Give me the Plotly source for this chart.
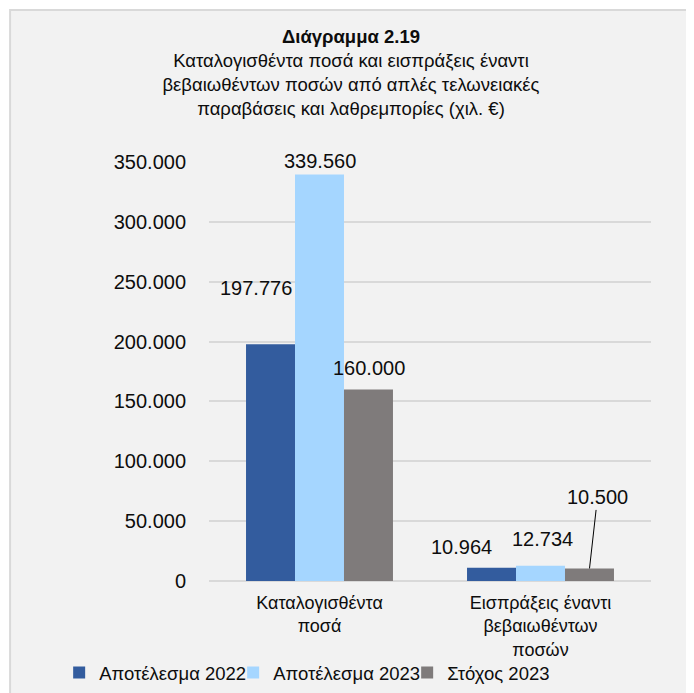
import plotly.graph_objects as go

# data
categories = ["Καταλογισθέντα<br>ποσά", "Εισπράξεις έναντι<br>βεβαιωθέντων<br>ποσών"]
series_names = ["Αποτέλεσμα 2022", "Αποτέλεσμα 2023", "Στόχος 2023"]
res_2022 = [197776, 10964]
res_2023 = [339560, 12734]
target_2023 = [160000, 10500]
label_text = [["197.776", "10.964"], ["339.560", "12.734"], ["160.000", "10.500"]]

colors = ["#335C9E", "#A5D6FF", "#7F7B7B"]
font_family = "Liberation Sans, Arial, sans-serif"
txt_color = "#0d0d0d"

fig = go.Figure()
for name, vals, c in zip(series_names, [res_2022, res_2023, target_2023], colors):
    fig.add_trace(go.Bar(x=categories, y=vals, name=name, legendwidth=129,
                         marker=dict(color=c, line=dict(width=0))))

# data labels (pixel nudges relative to category center / bar top)
bar_off = [-49, 0, 49]
nudges = {
    (0, 0): (-15, 56), (1, 0): (0, 14), (2, 0): (0, 21),
    (0, 1): (-30, 21), (1, 1): (2, 27),
}
for s, vals in enumerate([res_2022, res_2023, target_2023]):
    for i, v in enumerate(vals):
        if (s, i) in nudges:
            dx, dy = nudges[(s, i)]
            fig.add_annotation(x=categories[i], y=v, text=label_text[s][i], showarrow=False,
                               xshift=bar_off[s] + dx, yshift=dy,
                               font=dict(size=20, color=txt_color, family=font_family))
        else:
            # label pulled away with a leader line
            fig.add_annotation(x=categories[i], y=v, text=label_text[s][i], showarrow=True,
                               arrowhead=0, arrowwidth=1, arrowcolor="#000000", standoff=0,
                               xshift=bar_off[s], ax=8, ay=-71,
                               font=dict(size=20, color=txt_color, family=font_family))

# grey panel with border behind everything
fig.add_shape(type="rect", xref="paper", yref="paper", x0=-0.450, x1=1.12, y0=-0.30, y1=1.363,
              fillcolor="#F2F2F2", line=dict(color="#D9D9D9", width=2), layer="below")

# page body has an 8px margin, so the figure is 8px smaller than the window
fig.update_layout(
    width=686, height=685,
    margin=dict(l=201, r=43, t=154, b=112, autoexpand=False),
    paper_bgcolor="white", plot_bgcolor="rgba(0,0,0,0)",
    separators=",.",
    barmode="group", bargap=0.335, bargroupgap=0,
    font=dict(family=font_family, size=18, color=txt_color),
    title=dict(text="<b>Διάγραμμα 2.19</b><br>Καταλογισθέντα ποσά και εισπράξεις έναντι<br>"
                    "βεβαιωθέντων ποσών από απλές τελωνειακές<br>παραβάσεις και λαθρεμπορίες (χιλ. €)",
               x=0.5, xanchor="center", y=0.949, yanchor="top", yref="container",
               font=dict(size=18.5, color=txt_color, family=font_family)),
    legend=dict(orientation="h", x=-0.339, xanchor="left", xref="paper",
                y=-0.2196, yanchor="middle", yref="paper",
                font=dict(size=18.5, color=txt_color), bgcolor="rgba(0,0,0,0)",
                itemwidth=30, traceorder="normal"),
    showlegend=True,
)
fig.update_yaxes(range=[0, 350000], dtick=50000, tickformat=",.0f",
                 showgrid=True, gridcolor="#D9D9D9", gridwidth=1.5,
                 zeroline=True, zerolinecolor="#D9D9D9", zerolinewidth=1.5,
                 showline=False, ticks="", ticklabelstandoff=22,
                 tickfont=dict(size=20, color=txt_color))
fig.update_xaxes(showgrid=False, showline=False, ticks="", ticklabelstandoff=9,
                 tickfont=dict(size=18, color=txt_color))

fig.write_html("out.html")
